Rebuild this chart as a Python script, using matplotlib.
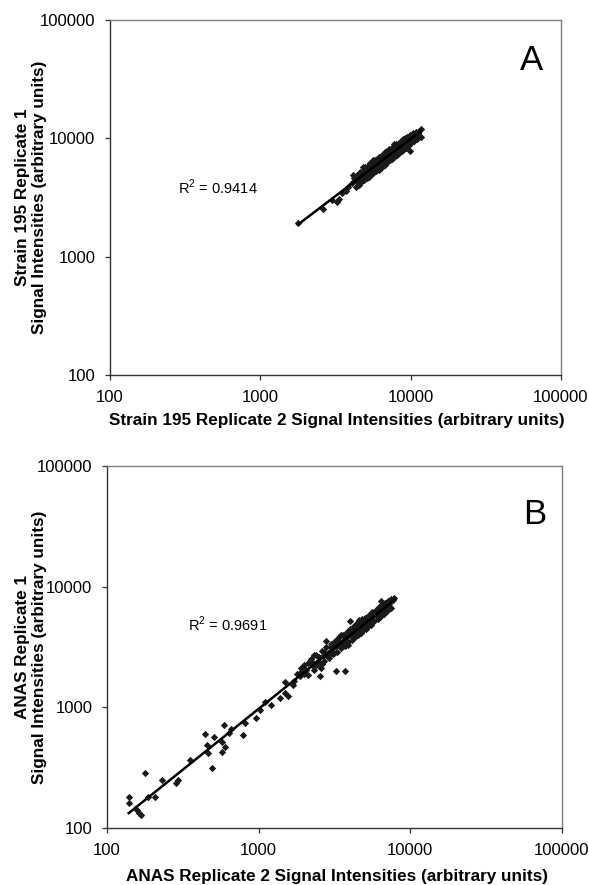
import numpy as np
import matplotlib.pyplot as plt

plt.rcParams['font.family'] = ['Liberation Sans', 'DejaVu Sans']
plt.rcParams['mathtext.fontset'] = 'custom'
plt.rcParams['mathtext.rm'] = 'Liberation Sans'

# Панель A: Strain 195, реплика 2 (x) против реплики 1 (y)
a_x = [1780, 3020, 3240, 3330, 3830, 4130, 4350, 4580, 9840, 11770, 5350, 2600, 3500, 3700,
       4200, 4400, 4600, 4800, 5000, 5200, 5400, 5600, 5800, 6000, 6200, 6400, 6600, 6800,
       7000, 7200, 7400, 7600, 7800, 8000, 8300, 8600, 8900, 9200, 9500, 9900, 10300, 10800, 11300,
       4300, 4500, 4700, 4900, 5100, 5300, 5500, 5700, 5900, 6100, 6300, 6500, 6700, 6900,
       7100, 7300, 7500, 7700, 7900, 8100, 8400, 8700, 9000, 9300, 9700, 10100, 10500, 11000,
       4100, 4350, 4650, 4850, 5050, 5250, 5450, 5650, 5850, 6050, 6250, 6450, 6650, 6850,
       7050, 7250, 7450, 7650, 7850, 8050, 8250, 8500, 8800, 9100, 9400, 9800, 10200, 10700, 11200, 11700,
       5000, 5500, 6000, 6500, 7000, 7500, 8000, 8500, 9000, 9500, 10000, 5200, 5800, 6200, 6800,
       7300, 7800, 8700,
       4500, 4900, 5300, 5700, 6100, 6500, 6900, 7300, 7700, 8100, 8600, 9100, 9600, 10400, 10900,
       5600, 6200, 7800, 8800, 4800]
a_y = [1930, 3010, 2920, 3090, 3910, 4910, 4450, 4590, 7820, 10330, 6240, 2550, 3450, 3600,
       4650, 4900, 5150, 5300, 5700, 5800, 6100, 6300, 6600, 6700, 7000, 7200, 7400, 7700,
       7800, 8100, 8200, 8500, 8600, 8900, 9200, 9500, 9800, 10000, 10300, 10600, 11000, 11300, 11600,
       3900, 4050, 4250, 4450, 4600, 4750, 4950, 5150, 5300, 5500, 5650, 5850, 6000, 6200,
       6400, 6550, 6750, 6950, 7100, 7300, 7550, 7800, 8100, 8350, 8700, 9100, 9500, 9900,
       4200, 4400, 4700, 4900, 5000, 5300, 5500, 5600, 5900, 6100, 6200, 6500, 6700, 6800,
       7100, 7200, 7500, 7700, 7800, 8100, 8300, 8500, 8800, 9200, 9400, 9800, 10200, 10600, 11100, 11900,
       5350, 5250, 6400, 6200, 7400, 7200, 8400, 8100, 9500, 9100, 10400, 5500, 5600, 6600, 6500,
       7750, 7450, 9200,
       4800, 5200, 5100, 6000, 5800, 6900, 6600, 7000, 8100, 7700, 9000, 8700, 10000, 10000, 11200,
       6500, 5400, 8900, 7900, 5700]

# Панель B: ANAS, реплика 2 (x) против реплики 1 (y)
b_x = [139, 139, 158, 163, 168, 177, 187, 207, 229, 287, 292, 352, 441, 453, 464, 494, 509, 577,
       589, 577, 597, 635, 661, 788, 817, 966, 1016, 1097, 1212, 1374, 1482, 1560, 1500, 1683,
       1862, 1910, 2277, 2585, 2547, 2788, 3213, 3162, 3975, 6410, 7850, 7280, 3715,
       2000, 2200, 2400, 2600, 2800, 3000, 3200, 3400, 3600, 3800, 4000, 4200, 4400, 4600,
       4800, 5000, 5300, 5600, 5900, 6200, 6500, 6800, 7100, 7500,
       2100, 2300, 2500, 2700, 2900, 3100, 3300, 3500, 3700, 3900, 4100, 4300, 4500, 4700,
       4900, 5200, 5500, 5800, 6100, 6400, 6700, 7000, 7400,
       1900, 2050, 2250, 2450, 2650, 2850, 3050, 3250, 3450, 3650, 3850, 4050, 4250, 4450,
       4650, 4850, 5100, 5400, 5700, 6000, 6300, 6600, 6900, 7200, 7700,
       2500, 2800, 3200, 3600, 4000, 4400, 4800, 5200, 5600, 6000, 6400, 6800, 3000, 3400, 4200,
       2100, 2400, 2700, 3000, 3300, 3700, 4100, 4500, 4900, 5300, 5800, 6200, 6600, 7000, 7400,
       2300, 2600, 3500, 3900, 4600, 5100, 1800, 1700, 2000]
b_y = [182, 160, 141, 132, 128, 288, 182, 180, 250, 235, 250, 366, 603, 489, 417, 313, 566, 520,
       716, 430, 473, 611, 659, 591, 740, 813, 953, 1097, 1050, 1191, 1312, 1230, 1607, 1540,
       1803, 2115, 2329, 2115, 1803, 3514, 2018, 2818, 5150, 7650, 8050, 7410, 2018,
       2250, 2500, 2700, 2950, 3150, 3350, 3550, 3800, 4000, 4250, 4450, 4650, 4900, 5100,
       5350, 5500, 5850, 6150, 6450, 6800, 7100, 7350, 7650, 7950,
       1850, 2050, 2200, 2400, 2550, 2750, 2900, 3100, 3250, 3450, 3600, 3800, 4000, 4150,
       4350, 4600, 4850, 5150, 5400, 5700, 5950, 6250, 6600,
       1950, 2050, 2250, 2400, 2650, 2800, 3050, 3200, 3450, 3600, 3850, 4000, 4250, 4400,
       4650, 4800, 5100, 5350, 5700, 5950, 6300, 6550, 6900, 7150, 7700,
       2600, 2700, 3400, 3400, 4200, 4200, 5000, 5000, 5800, 5700, 6600, 6600, 3150, 3300, 4400,
       2350, 2250, 2900, 2800, 3600, 3500, 4400, 4250, 5200, 5000, 6100, 5900, 6900, 6700, 7700,
       2700, 2300, 4000, 3300, 5300, 4500, 1900, 1650, 1900]

panels = [
    dict(x=a_x, y=a_y, letter="A", r2="0.9414",
         xlabel="Strain 195 Replicate 2 Signal Intensities (arbitrary units)",
         ylabel="Strain 195 Replicate 1\nSignal Intensities (arbitrary units)",
         rect=[110/589, 1-375/885, 451/589, 355/885],
         r2pos=(218, 187), letpos=(532, 60), xlpos=(337, 421), ylpos=(31, 197)),
    dict(x=b_x, y=b_y, letter="B", r2="0.9691",
         xlabel="ANAS Replicate 2 Signal Intensities (arbitrary units)",
         ylabel="ANAS Replicate 1\nSignal Intensities (arbitrary units)",
         rect=[107/589, 1-828/885, 455/589, 362/885],
         r2pos=(228, 624), letpos=(535, 515), xlpos=(337, 876), ylpos=(31, 647)),
]

fig = plt.figure(figsize=(5.89, 8.85), dpi=100)

for p in panels:
    ax = fig.add_axes(p["rect"])
    x = np.array(p["x"], dtype=float)
    y = np.array(p["y"], dtype=float)
    ax.scatter(x, y, marker="D", s=14, color="#1a1a1a", linewidths=0, zorder=2)

    # линия тренда (степенная) по точкам
    k, b = np.polyfit(np.log10(x), np.log10(y), 1)
    xl = np.array([x.min(), x.max()])
    ax.plot(xl, 10 ** (k * np.log10(xl) + b), color="black", lw=1.8, zorder=3)

    ax.set_xscale("log")
    ax.set_yscale("log")
    ax.set_xlim(100, 100000)
    ax.set_ylim(100, 100000)
    ticks = [100, 1000, 10000, 100000]
    ax.set_xticks(ticks)
    ax.set_yticks(ticks)
    ax.set_xticklabels([str(t) for t in ticks])
    ax.set_yticklabels([str(t) for t in ticks])
    ax.minorticks_off()
    ax.tick_params(labelsize=12, length=3.6, width=0.9, color="#333333", pad=7)

    for side in ["left", "bottom"]:
        ax.spines[side].set_color("#333333")
        ax.spines[side].set_linewidth(1.0)
    for side in ["top", "right"]:
        ax.spines[side].set_color("#808080")
        ax.spines[side].set_linewidth(1.0)

    fig.text(p["r2pos"][0]/589, 1 - p["r2pos"][1]/885, r"R$^2$ = " + p["r2"],
             ha="center", va="center", fontsize=10.5)
    fig.text(p["letpos"][0]/589, 1 - p["letpos"][1]/885, p["letter"],
             ha="center", va="center", fontsize=25)
    fig.text(p["xlpos"][0]/589, 1 - p["xlpos"][1]/885, p["xlabel"],
             ha="center", va="center", fontsize=12.3, fontweight="bold")
    fig.text(p["ylpos"][0]/589, 1 - p["ylpos"][1]/885, p["ylabel"],
             ha="center", va="center", rotation=90, fontsize=12.3,
             fontweight="bold", multialignment="center", linespacing=1.15)

fig.savefig("out.png", dpi=100)
